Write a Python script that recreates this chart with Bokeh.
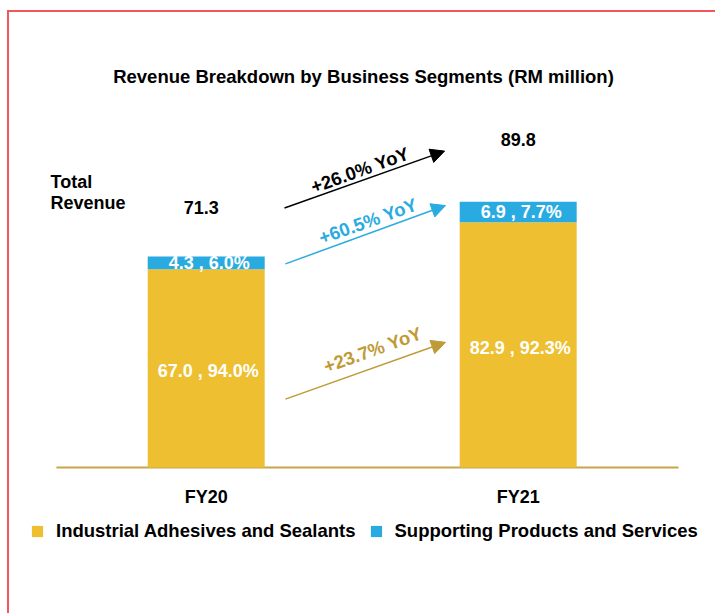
from bokeh.plotting import figure
from bokeh.models import (Range1d, Arrow, NormalHead, Label,
                          Legend, LegendItem, ColumnDataSource)
from bokeh.embed import file_html
from bokeh.resources import INLINE
from bokeh.core.properties import value

# ---------------- data ----------------
categories = ["FY20", "FY21"]
industrial = [67.0, 82.9]
supporting = [4.3, 6.9]
industrial_pct = [94.0, 92.3]
supporting_pct = [6.0, 7.7]
totals = [71.3, 89.8]
yoy_total = 26.0
yoy_supporting = 60.5
yoy_industrial = 23.7
series_names = ["Industrial Adhesives and Sealants", "Supporting Products and Services"]

# ---------------- style ----------------
FONT = "Liberation Sans"
YELLOW = "#EDBF31"
BLUE = "#29ABE2"
GOLD = "#BF9B38"
AXIS_GOLD = "#C6A54E"
RED = "#F0585B"

xs = list(range(len(categories)))
sup_top = [a + b for a, b in zip(industrial, supporting)]
src = ColumnDataSource(dict(
    x=xs,
    zero=[0] * len(xs),
    cat=categories,
    ind_top=industrial,
    sup_bottom=industrial,
    sup_top=sup_top,
    ind_mid=[t / 2 for t in industrial],
    sup_mid=[(a + b) / 2 for a, b in zip(industrial, sup_top)],
    ind_label=[f"{v:.1f} , {p:.1f}%" for v, p in zip(industrial, industrial_pct)],
    sup_label=[f"{v:.1f} , {p:.1f}%" for v, p in zip(supporting, supporting_pct)],
    total=totals,
    total_label=[f"{t:.1f}" for t in totals],
    total_yoff=[-49, -62],
    total_xoff=[-5, 0],
))

p = figure(width=708, height=603, output_backend="svg", toolbar_location=None,
           x_range=Range1d(-0.6305, 1.6388), y_range=Range1d(-50.0, 124.0),
           min_border_left=0, min_border_right=0, min_border_top=88,
           min_border_bottom=0)
p.styles = {"border-top": f"2px solid {RED}", "border-left": f"2px solid {RED}",
            "margin-left": "7px", "margin-top": "10px"}

p.title.text = "Revenue Breakdown by Business Segments (RM million)"
p.title.text_font = FONT
p.title.text_font_size = "18.5px"
p.title.text_font_style = "bold"
p.title.text_color = "black"
p.title.align = "center"
p.title.standoff = 27

p.outline_line_color = None
p.xgrid.visible = False
p.ygrid.visible = False
p.xaxis.visible = False
p.yaxis.visible = False
p.background_fill_color = "white"

# baseline (category axis line)
p.segment(x0=[-0.48], y0=[0], x1=[1.514], y1=[0], line_color=AXIS_GOLD, line_width=2)

BW = 0.375
r_ind = p.vbar(x="x", bottom="zero", top="ind_top", width=BW, source=src,
               fill_color=YELLOW, line_color=None)
r_sup = p.vbar(x="x", bottom="sup_bottom", top="sup_top", width=BW, source=src,
               fill_color=BLUE, line_color=None)

common = dict(text_font=value(FONT), text_font_size="18px", text_font_style="bold",
              text_align="center", text_baseline="middle", source=src)
# category labels
p.text(x="x", y="zero", text="cat", text_color="black", y_offset=29.5, **common)
# segment value labels
p.text(x="x", y="ind_mid", text="ind_label", text_color="white", x_offset=2,
       y_offset=3, **common)
p.text(x="x", y="sup_mid", text="sup_label", text_color="white", x_offset=3, **common)
# totals
p.text(x="x", y="total", text="total_label", text_color="black",
       y_offset="total_yoff", x_offset="total_xoff", **common)

# Total Revenue label
for i, line in enumerate(["Total", "Revenue"]):
    p.add_layout(Label(x=-0.499, y=(467 - 181.7 - 21 * i) / 2.96, text=line,
                       text_font=FONT, text_font_size="18px", text_font_style="bold",
                       text_color="black", text_baseline="middle", text_align="left"))

# YoY arrows and labels
arrows = [
    (0.251, 87.7, 0.764, 106.9, "black", f"+{yoy_total:.1f}% YoY", 0.493, 100.5),
    (0.254, 68.8, 0.767, 88.5, BLUE, f"+{yoy_supporting:.1f}% YoY", 0.519, 83.3),
    (0.254, 23.1, 0.767, 42.3, GOLD, f"+{yoy_industrial:.1f}% YoY", 0.534, 39.8),
]
for x0, y0, x1, y1, col, txt, tx, ty in arrows:
    p.add_layout(Arrow(x_start=x0, y_start=y0, x_end=x1, y_end=y1,
                       line_color=col, line_width=1.5,
                       end=NormalHead(size=14, fill_color=col, line_color=col)))
    p.add_layout(Label(x=tx, y=ty, text=txt, angle=0.345, text_font=FONT,
                       text_font_size="18.5px", text_font_style="bold", text_color=col,
                       text_align="center", text_baseline="middle"))

legend = Legend(items=[LegendItem(label=series_names[0], renderers=[r_ind]),
                       LegendItem(label=series_names[1], renderers=[r_sup])],
                orientation="horizontal", location=(21, 73),
                glyph_width=14, glyph_height=14, label_standoff=12, spacing=13,
                padding=0, margin=0, border_line_color=None,
                background_fill_alpha=0,
                label_text_font=FONT, label_text_font_size="18.5px",
                label_text_font_style="bold", label_text_color="black")
p.add_layout(legend, "center")

open("out.html", "w").write(file_html(p, INLINE))
